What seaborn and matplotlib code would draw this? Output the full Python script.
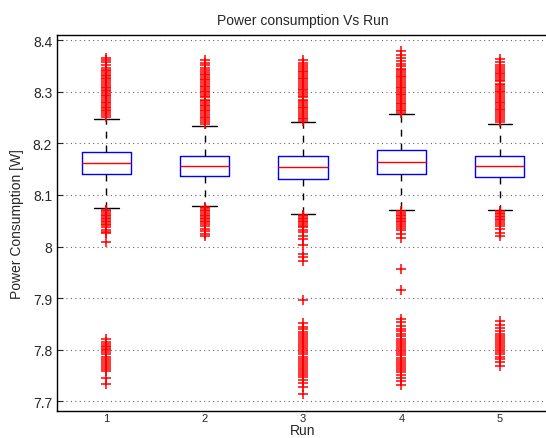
import numpy as np
import pandas as pd
import matplotlib
matplotlib.use("Agg")
import matplotlib.pyplot as plt
import seaborn as sns

runs = ["1", "2", "3", "4", "5"]
whisker_low = [8.074, 8.079, 8.064, 8.070, 8.071]
q1 = [8.140, 8.137, 8.131, 8.140, 8.134]
median = [8.162, 8.157, 8.154, 8.164, 8.156]
q3 = [8.183, 8.176, 8.176, 8.187, 8.176]
whisker_high = [8.248, 8.234, 8.242, 8.257, 8.238]

outliers_1 = [8.366, 8.362, 8.357, 8.352, 8.347, 8.343, 8.340, 8.337, 8.333, 8.330,
              8.327, 8.324, 8.320, 8.317, 8.314, 8.310, 8.307, 8.304, 8.301, 8.297,
              8.294, 8.291, 8.288, 8.284, 8.281, 8.278, 8.275, 8.271, 8.268, 8.265,
              8.262, 8.258, 8.255, 8.252,
              8.071, 8.068, 8.065, 8.062, 8.059, 8.056, 8.053, 8.050, 8.047, 8.044,
              8.041, 8.037, 8.033, 8.029, 8.026, 8.009,
              7.820, 7.816, 7.812, 7.808, 7.805, 7.802, 7.799, 7.795, 7.791, 7.786,
              7.782, 7.778, 7.774, 7.770, 7.766, 7.762, 7.758, 7.746, 7.733]
outliers_2 = [8.362, 8.356, 8.351, 8.346, 8.342, 8.339, 8.335, 8.332, 8.329, 8.325,
              8.322, 8.319, 8.315, 8.312, 8.309, 8.305, 8.302, 8.299, 8.295, 8.292,
              8.289, 8.285, 8.282, 8.279, 8.275, 8.272, 8.269, 8.265, 8.262, 8.259,
              8.255, 8.252, 8.249, 8.245, 8.242, 8.238,
              8.077, 8.074, 8.071, 8.068, 8.065, 8.062, 8.059, 8.056, 8.053, 8.050,
              8.047, 8.043, 8.040, 8.035, 8.030, 8.025, 8.020]
outliers_3 = [8.361, 8.356, 8.352, 8.348, 8.345, 8.341, 8.338, 8.334, 8.331, 8.327,
              8.324, 8.320, 8.317, 8.313, 8.310, 8.306, 8.303, 8.299, 8.296, 8.292,
              8.289, 8.285, 8.282, 8.278, 8.275, 8.271, 8.268, 8.264, 8.261, 8.257,
              8.254, 8.250, 8.247, 8.244,
              8.062, 8.059, 8.056, 8.053, 8.050, 8.047, 8.044, 8.040, 8.037, 8.033,
              8.028, 8.021, 8.015, 8.004, 7.986, 7.980, 7.972, 7.897,
              7.852, 7.845, 7.840, 7.835, 7.831, 7.827, 7.823, 7.819, 7.815, 7.811,
              7.807, 7.803, 7.799, 7.795, 7.791, 7.787, 7.783, 7.779, 7.775, 7.771,
              7.767, 7.763, 7.759, 7.755, 7.751, 7.747, 7.742, 7.736, 7.727, 7.714]
outliers_4 = [8.379, 8.372, 8.366, 8.360, 8.354, 8.349, 8.345, 8.342, 8.338, 8.335,
              8.331, 8.328, 8.324, 8.321, 8.317, 8.314, 8.310, 8.307, 8.303, 8.300,
              8.296, 8.293, 8.289, 8.286, 8.282, 8.279, 8.276, 8.272, 8.268, 8.265,
              8.262, 8.259,
              8.068, 8.065, 8.062, 8.059, 8.056, 8.053, 8.050, 8.047, 8.044, 8.040,
              8.036, 8.032, 8.025, 8.016, 7.957, 7.915,
              7.860, 7.853, 7.846, 7.841, 7.836, 7.831, 7.826, 7.821, 7.817, 7.813,
              7.809, 7.805, 7.801, 7.797, 7.793, 7.789, 7.785, 7.781, 7.777, 7.773,
              7.769, 7.765, 7.761, 7.757, 7.752, 7.746, 7.739, 7.731]
outliers_5 = [8.364, 8.357, 8.352, 8.348, 8.344, 8.341, 8.337, 8.334, 8.330, 8.327,
              8.323, 8.320, 8.316, 8.313, 8.309, 8.306, 8.302, 8.299, 8.295, 8.292,
              8.288, 8.285, 8.281, 8.278, 8.274, 8.271, 8.267, 8.264, 8.260, 8.257,
              8.253, 8.250, 8.246, 8.242,
              8.069, 8.066, 8.063, 8.060, 8.057, 8.054, 8.051, 8.047, 8.044, 8.040,
              8.034, 8.027, 8.020,
              7.855, 7.849, 7.843, 7.836, 7.831, 7.827, 7.823, 7.819, 7.815, 7.811,
              7.807, 7.803, 7.799, 7.795, 7.791, 7.787, 7.782, 7.776, 7.768]

ytick_values = [7.7, 7.8, 7.9, 8.0, 8.1, 8.2, 8.3, 8.4]
ytick_labels = ["7.7", "7.8", "7.9", "8", "8.1", "8.2", "8.3", "8.4"]

# box data (five-number summaries)
box_rows = []
for i, r in enumerate(runs):
    for v in (whisker_low[i], q1[i], median[i], q3[i], whisker_high[i]):
        box_rows.append({"Run": r, "Power": v})
box_df = pd.DataFrame(box_rows)

out_rows = []
for r, vals in zip(runs, [outliers_1, outliers_2, outliers_3, outliers_4, outliers_5]):
    for v in vals:
        out_rows.append({"Run": r, "Power": v})
out_df = pd.DataFrame(out_rows)

sns.set_style("white")
plt.rcParams["font.family"] = ["Liberation Sans", "DejaVu Sans"]

fig = plt.figure(figsize=(5.46, 4.39), dpi=100)
ax = fig.add_axes([57 / 546, (439 - 411.7) / 439, 492 / 546, (411.7 - 36) / 439])

sns.boxplot(data=box_df, x="Run", y="Power", order=runs, ax=ax,
            whis=(0, 100), width=0.5, fill=False, showfliers=False,
            boxprops=dict(color="blue", linewidth=1.0),
            medianprops=dict(color="red", linewidth=1.0),
            whiskerprops=dict(color="black", linewidth=1.0, linestyle=(0, (5, 5))),
            capprops=dict(color="black", linewidth=1.0),
            capwidths=0.25)

sns.stripplot(data=out_df, x="Run", y="Power", order=runs, ax=ax,
              jitter=False, marker="+", color="red", size=6.5, linewidth=1.1)

ax.set_xlim(-0.5, 4.5)
ax.set_ylim(7.682, 8.410)
ax.set_yticks(ytick_values)
ax.set_yticklabels(ytick_labels, fontsize=10)
ax.tick_params(axis="y", direction="in", length=4, width=0.8, left=True)
ax.tick_params(axis="x", length=0, labelsize=8, pad=2)
ax.yaxis.grid(True, linestyle=(0, (1, 3)), color="#666666", linewidth=0.8)
ax.xaxis.grid(False)
for s in ax.spines.values():
    s.set_color("black")
    s.set_linewidth(1.0)

ax.set_title("Power consumption Vs Run", fontsize=10, pad=8)
ax.set_xlabel("Run", fontsize=10, labelpad=-0.5)
ax.set_ylabel("Power Consumption [W]", fontsize=10, labelpad=6)

fig.savefig("out.png", dpi=100)
